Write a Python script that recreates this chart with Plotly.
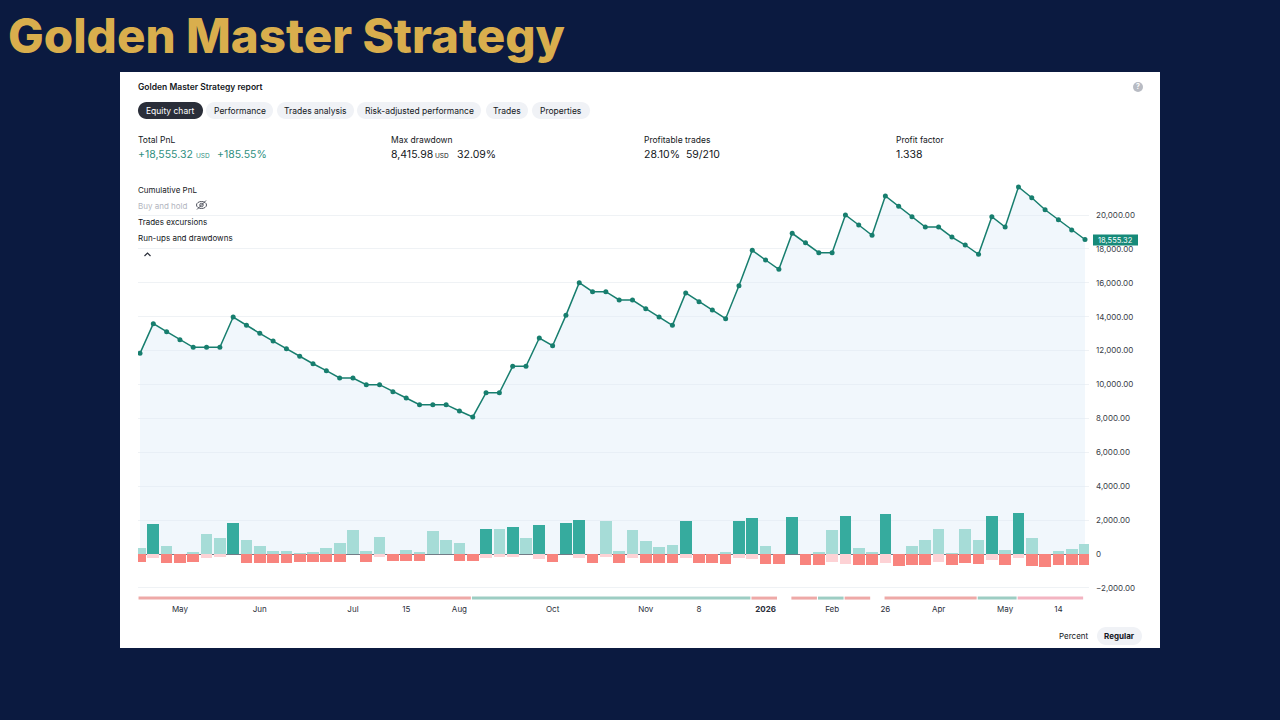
import plotly.graph_objects as go

# ---------------- data ----------------
equity = [11840, 13590, 13115, 12640, 12195, 12195, 12195, 13980, 13490, 13020,
          12565, 12110, 11665, 11225, 10815, 10385, 10385, 9990, 9990, 9575,
          9205, 8810, 8810, 8810, 8435, 8085, 9515, 9515, 11075, 11075,
          12745, 12290, 14080, 16005, 15475, 15475, 14985, 14985, 14470, 13980,
          13490, 15400, 14885, 14395, 13880, 15830, 17915, 17345, 16795, 18920,
          18365, 17775, 17775, 20000, 19410, 18800, 21120, 20515, 19900, 19290,
          19290, 18700, 18230, 17680, 19900, 19290, 21650, 21020, 20310, 19720,
          19115, 18555.32]

runups = [350, 1765, 490, 0, 100, 1155, 940, 1805, 825, 470,
          175, 175, 40, 100, 370, 665, 1410, 175, 1020, 0,
          235, 100, 1350, 825, 665, 0, 1470, 1470, 1590, 940,
          1705, 0, 1825, 1980, 0, 1940, 175, 1430, 765, 410,
          530, 1920, 0, 0, 100, 1940, 2100, 470, 0, 2195,
          0, 100, 1410, 2255, 335, 100, 2355, 0, 450, 805,
          1490, 80, 1450, 825, 2255, 235, 2410, 940, 0, 155,
          275, 590]

drawdowns = [490, 255, 510, 510, 490, 255, 155, 0, 510, 510,
             510, 510, 490, 490, 490, 450, 0, 450, 155, 410,
             410, 410, 0, 0, 410, 410, 255, 155, 155, 0,
             315, 490, 0, 255, 550, 155, 510, 215, 510, 510,
             510, 255, 550, 550, 600, 215, 295, 600, 590, 0,
             650, 650, 450, 570, 650, 650, 530, 685, 650, 650,
             450, 650, 510, 610, 335, 650, 255, 685, 745, 665,
             650, 650]

# colour flags (d = strong colour, l = light colour)
runup_kind = ["l","d","l","l","l","l","l","d","l","l",
              "l","l","l","l","l","l","l","l","l","l",
              "l","l","l","l","l","l","d","l","d","l",
              "d","l","d","d","l","l","l","l","l","l",
              "l","d","l","l","l","d","d","l","l","d",
              "l","l","l","d","l","l","d","l","l","l",
              "l","l","l","l","d","l","d","l","l","l",
              "l","l"]
dd_kind = ["d","l","d","d","d","l","l","d","d","d",
           "d","d","d","d","d","d","d","d","l","d",
           "d","d","d","d","d","d","l","l","l","d",
           "l","d","d","l","d","l","d","l","d","d",
           "d","l","d","d","d","l","l","d","d","d",
           "d","d","l","l","d","d","l","d","d","d",
           "l","d","d","d","l","d","l","d","d","d",
           "d","d"]

# period strip (start, end in trade index, state)
periods = [(-0.15, 24.9, "loss"), (24.9, 45.9, "gain"), (45.9, 47.9, "loss"),
           (48.9, 50.9, "loss"), (50.9, 52.9, "gain"), (52.9, 54.9, "loss"),
           (55.9, 62.9, "loss"), (62.9, 65.9, "gain"), (65.9, 70.9, "open")]

tick_idx = [3, 9, 16, 20, 24, 31, 38, 42, 47, 52, 56, 60, 65, 69]
tick_txt = ["May", "Jun", "Jul", "15", "Aug", "Oct", "Nov", "8", "<b>2026</b>",
            "Feb", "26", "Apr", "May", "14"]
y_ticks = list(range(-2000, 20001, 2000))
y_labels = ["0" if v == 0 else ("\u2212" if v < 0 else "") + f"{abs(v):,.2f}" for v in y_ticks]

# ---------------- layout helpers ----------------
L, R, T, B = 138, 1089, 175, 603
W, H = R - L, B - T
Y_RANGE = [-2890, 22360]


def px(x):
    return (x - L) / W


def py(y):
    return (B - y) / H


FONT = "Inter"
DARK = "#131722"

x_idx = list(range(len(equity)))
fig = go.Figure()

# equity area + line (main axis)
fig.add_trace(go.Scatter(
    x=x_idx, y=equity, mode="lines+markers",
    line=dict(color="#177e6e", width=1.5),
    marker=dict(color="#177e6e", size=5),
    fill="tozeroy", fillcolor="rgba(222,236,248,0.42)",
    hoverinfo="skip", showlegend=False))

# run-ups and drawdowns (overlay axis so they sit above the area fill)
col_up = {"d": "#36ab9e", "l": "#a6dcd7"}
col_dn = {"d": "#f8847e", "l": "#fdd2d5"}
fig.add_trace(go.Bar(x=x_idx, y=runups, width=0.88, yaxis="y2",
                     marker=dict(color=[col_up[k] for k in runup_kind], line=dict(width=0)),
                     showlegend=False, hoverinfo="skip"))
fig.add_trace(go.Bar(x=x_idx, y=[-v for v in drawdowns], width=0.88, yaxis="y2",
                     marker=dict(color=[col_dn[k] for k in dd_kind], line=dict(width=0)),
                     showlegend=False, hoverinfo="skip"))

# period strip
strip_col = {"loss": "#eea9a7", "gain": "#9dcdc3", "open": "#f3b4c1"}
for s, e, st in periods:
    fig.add_trace(go.Scatter(x=[s + 0.04, e - 0.04], y=[-2600, -2600], mode="lines",
                             yaxis="y2", line=dict(color=strip_col[st], width=3),
                             hoverinfo="skip", showlegend=False))

shapes = []
annotations = []

# white card
shapes.append(dict(type="rect", xref="paper", yref="paper", layer="below",
                   x0=px(120), x1=px(1160), y0=py(648), y1=py(72),
                   fillcolor="#ffffff", line=dict(width=0)))


def pill(x0, y0, x1, y1, fill):
    r = (y1 - y0) / 2
    k = 0.5523 * r
    pts = [
        f"M {px(x0 + r)},{py(y0)}",
        f"L {px(x1 - r)},{py(y0)}",
        f"C {px(x1 - r + k)},{py(y0)} {px(x1)},{py(y0 + r - k)} {px(x1)},{py(y0 + r)}",
        f"C {px(x1)},{py(y0 + r + k)} {px(x1 - r + k)},{py(y1)} {px(x1 - r)},{py(y1)}",
        f"L {px(x0 + r)},{py(y1)}",
        f"C {px(x0 + r - k)},{py(y1)} {px(x0)},{py(y0 + r + k)} {px(x0)},{py(y0 + r)}",
        f"C {px(x0)},{py(y0 + r - k)} {px(x0 + r - k)},{py(y0)} {px(x0 + r)},{py(y0)} Z",
    ]
    shapes.append(dict(type="path", xref="paper", yref="paper", path=" ".join(pts),
                       fillcolor=fill, line=dict(width=0), layer="above"))


def txt(x, y, text, size=8, color=DARK, weight=None, anchor="left", family=FONT):
    f = dict(family=family, size=size, color=color)
    if weight:
        f["weight"] = weight
    if anchor == "left":
        x -= 2
    annotations.append(dict(x=px(x), y=py(y), xref="paper", yref="paper", text=text,
                            showarrow=False, xanchor=anchor, yanchor="middle",
                            font=f))


# page title
txt(8, 35, "Golden Master Strategy", size=47.5, color="#d9ae4d", weight=800)

# report header
txt(138, 86.5, "Golden Master Strategy report", size=8.5, weight=600)

tabs = [("Equity chart", 138, 203), ("Performance", 206, 273), ("Trades analysis", 277, 354),
        ("Risk-adjusted performance", 357, 481), ("Trades", 486, 528), ("Properties", 532, 590)]
for i, (name, a, b) in enumerate(tabs):
    pill(a, 102, b, 119, "#2a2e39" if i == 0 else "#f0f2f6")
    txt((a + b) / 2, 110.5, name, size=8.5, color="#ffffff" if i == 0 else DARK, anchor="center")

# help icon
shapes.append(dict(type="circle", xref="paper", yref="paper", x0=px(1133), x1=px(1143),
                   y0=py(92), y1=py(82), fillcolor="#b8bbc3", line=dict(width=0)))
txt(1138, 87, "?", size=7, color="#ffffff", weight=700, anchor="center")

# stats
GREEN = "#2f8f7f"
txt(138, 140, "Total PnL", size=8.5)
txt(138, 154.5, "+18,555.32", size=10.5, color=GREEN)
txt(195.5, 155.5, "USD", size=6.5, color=GREEN)
txt(216.5, 154.5, "+185.55%", size=10.5, color=GREEN)
txt(391, 140, "Max drawdown", size=8.5)
txt(391, 154.5, "8,415.98", size=10.5)
txt(435, 155.5, "USD", size=6.5)
txt(457, 154.5, "32.09%", size=10.5)
txt(644, 140, "Profitable trades", size=8.5)
txt(644, 154.5, "28.10%&nbsp;&nbsp;59/210", size=10.5)
txt(896, 140, "Profit factor", size=8.5)
txt(896, 154.5, "1.338", size=10.5)

# legend-like list
txt(138, 189.5, "Cumulative PnL", size=8)
txt(138, 205.5, "Buy and hold", size=8, color="#b2b5be")
txt(138, 221.5, "Trades excursions", size=8)
txt(138, 237.5, "Run-ups and drawdowns", size=8)
# eye-off icon
shapes.append(dict(type="circle", xref="paper", yref="paper", x0=px(196.5), x1=px(206.5),
                   y0=py(208.5), y1=py(201.5), line=dict(color="#50535e", width=1),
                   fillcolor="rgba(0,0,0,0)"))
shapes.append(dict(type="circle", xref="paper", yref="paper", x0=px(199.8), x1=px(203.2),
                   y0=py(206.7), y1=py(203.3), line=dict(color="#50535e", width=1),
                   fillcolor="rgba(0,0,0,0)"))
shapes.append(dict(type="line", xref="paper", yref="paper", x0=px(197), x1=px(206),
                   y0=py(209.5), y1=py(200.5), line=dict(color="#50535e", width=1)))
# collapse caret
shapes.append(dict(type="path", xref="paper", yref="paper",
                   path=f"M {px(144.5)},{py(256)} L {px(147.5)},{py(253)} L {px(150.5)},{py(256)}",
                   line=dict(color="#2a2e39", width=1.2)))

# last value tag
shapes.append(dict(type="rect", xref="paper", yref="paper", x0=px(1093), x1=px(1138),
                   y0=py(245.5), y1=py(234.5), fillcolor="#168a79", line=dict(width=0),
                   layer="above"))
txt(1115.5, 240, f"{equity[-1]:,.2f}", size=7.5, color="#ffffff", anchor="center")

# bottom-right toggles
txt(1074, 636, "Percent", size=8, anchor="center")
pill(1097, 627, 1142, 645, "#f0f2f6")
txt(1119.5, 636, "Regular", size=8, weight=700, anchor="center")

fig.update_layout(
    width=1280, height=720,
    margin=dict(l=L, r=1280 - R, t=T, b=720 - B, pad=0),
    paper_bgcolor="#0b1a40",
    plot_bgcolor="rgba(0,0,0,0)",
    barmode="overlay", bargap=0,
    shapes=shapes, annotations=annotations,
    showlegend=False,
    font=dict(family=FONT, color=DARK),
    xaxis=dict(range=[-0.15, 71.3], tickvals=tick_idx, ticktext=tick_txt,
               tickfont=dict(size=8, color="#2a2e39", family=FONT),
               showgrid=False, zeroline=False, showline=False, ticks="",
               fixedrange=True),
    yaxis=dict(range=Y_RANGE, side="right", tickvals=y_ticks, ticktext=y_labels,
               tickfont=dict(size=8, color="#3a3e48", family=FONT),
               showgrid=True, gridcolor="#eff2f5", gridwidth=1,
               zeroline=True, zerolinecolor="#737b86", zerolinewidth=1,
               showline=False, ticks="", ticklabelstandoff=6, fixedrange=True),
    yaxis2=dict(range=Y_RANGE, overlaying="y", side="right", showticklabels=False,
                showgrid=False, zeroline=True, zerolinecolor="#737b86", zerolinewidth=1,
                showline=False, ticks="", fixedrange=True),
)

fig.write_html("out.html")
